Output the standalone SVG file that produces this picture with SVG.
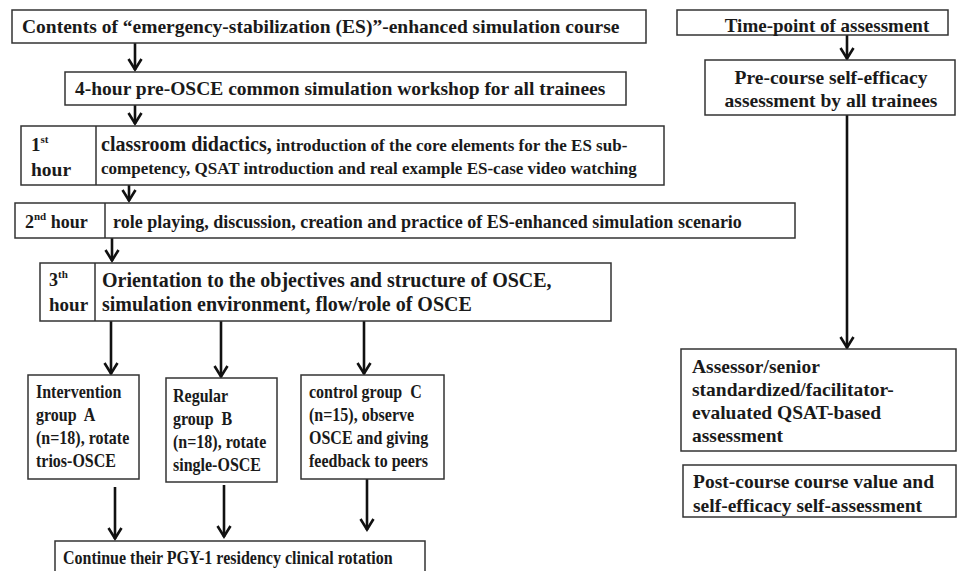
<svg xmlns="http://www.w3.org/2000/svg" width="959" height="571" viewBox="0 0 959 571">
<defs>
<style>
.box{fill:#fff;stroke:#333;stroke-width:1.5}
.div{stroke:#333;stroke-width:1.5}
.t{font-family:"Liberation Serif","Times New Roman",serif;font-weight:bold;fill:#1a1a1a}
.pre{white-space:pre}
.arr{stroke:#111;stroke-width:2.6;fill:none;marker-end:url(#ah)}
</style>
<marker id="ah" viewBox="0 0 14 16" refX="12.5" refY="8" markerWidth="14" markerHeight="16" markerUnits="userSpaceOnUse" orient="auto">
<path d="M1.5,1.5 L12,8 L1.5,14.5" fill="none" stroke="#111" stroke-width="2.6"/>
</marker>
</defs>
<rect width="959" height="571" fill="#fff"/>

<g id="connectors">
<line class="arr" x1="135" y1="43" x2="135" y2="70"/>
<line class="arr" x1="135" y1="105" x2="135" y2="124"/>
<line class="arr" x1="129" y1="185" x2="129" y2="201"/>
<line class="arr" x1="112" y1="238" x2="112" y2="261"/>
<line class="arr" x1="111" y1="321" x2="111" y2="374"/>
<line class="arr" x1="221" y1="321" x2="221" y2="377"/>
<line class="arr" x1="364" y1="321" x2="364" y2="374"/>
<line class="arr" x1="115" y1="487" x2="115" y2="539"/>
<line class="arr" x1="224" y1="485" x2="224" y2="537"/>
<line class="arr" x1="367" y1="479" x2="367" y2="530"/>
<line class="arr" x1="847" y1="35" x2="847" y2="59"/>
<line class="arr" x1="847" y1="115" x2="847" y2="348"/>
</g>

<g id="n-contents">
<rect class="box" x="12" y="10" width="634" height="33"/>
<text class="t" x="22" y="33" font-size="19.5">Contents of “emergency-stabilization (ES)”-enhanced simulation course</text>
</g>

<g id="n-workshop">
<rect class="box" x="65" y="72" width="561" height="33"/>
<text class="t" x="75" y="95" font-size="19.5">4-hour pre-OSCE common simulation workshop for all trainees</text>
</g>

<g id="n-hour1">
<rect class="box" x="21" y="126" width="643" height="59"/>
<line class="div" x1="96" y1="126" x2="96" y2="185"/>
<text class="t" x="31" y="151" font-size="19">1<tspan font-size="11" dy="-8">st</tspan></text>
<text class="t" x="31" y="176" font-size="19.5">hour</text>
<text class="t" x="101" y="151" font-size="20">classroom didactics,<tspan font-size="17"> introduction of the core elements for the ES sub-</tspan></text>
<text class="t" x="101" y="174" font-size="17">competency, QSAT introduction and real example ES-case video watching</text>
</g>

<g id="n-hour2">
<rect class="box" x="15" y="203" width="780" height="35"/>
<line class="div" x1="105" y1="203" x2="105" y2="238"/>
<text class="t" x="25" y="228" font-size="18">2<tspan font-size="11" dy="-8">nd</tspan><tspan dy="8"> hour</tspan></text>
<text class="t" x="113" y="228" font-size="18">role playing, discussion, creation and practice of ES-enhanced simulation scenario</text>
</g>

<g id="n-hour3">
<rect class="box" x="40" y="263" width="571" height="58"/>
<line class="div" x1="95" y1="263" x2="95" y2="321"/>
<text class="t" x="49" y="286" font-size="18">3<tspan font-size="11" dy="-8">th</tspan></text>
<text class="t" x="49" y="311" font-size="19">hour</text>
<text class="t" x="102" y="287" font-size="20">Orientation to the objectives and structure of OSCE,</text>
<text class="t" x="102" y="311" font-size="20">simulation environment, flow/role of OSCE</text>
</g>

<g id="n-groupA">
<rect class="box" x="28" y="375" width="111" height="104"/>
<text class="t pre" font-size="18" transform="translate(36,0) scale(0.89,1)"><tspan x="0" y="398">Intervention</tspan><tspan x="0" y="421">group  A</tspan><tspan x="0" y="444">(n=18), rotate</tspan><tspan x="0" y="467">trios-OSCE</tspan></text>
</g>

<g id="n-groupB">
<rect class="box" x="166" y="378" width="111" height="104"/>
<text class="t pre" font-size="18" transform="translate(173,0) scale(0.89,1)"><tspan x="0" y="402">Regular</tspan><tspan x="0" y="425">group  B</tspan><tspan x="0" y="448">(n=18), rotate</tspan><tspan x="0" y="471">single-OSCE</tspan></text>
</g>

<g id="n-groupC">
<rect class="box" x="301" y="375" width="143" height="104"/>
<text class="t pre" font-size="18" transform="translate(309,0) scale(0.89,1)"><tspan x="0" y="398">control group  C</tspan><tspan x="0" y="421">(n=15), observe</tspan><tspan x="0" y="444">OSCE and giving</tspan><tspan x="0" y="467">feedback to peers</tspan></text>
</g>

<g id="n-continue">
<rect class="box" x="55" y="541" width="370" height="40"/>
<text class="t" font-size="18" transform="translate(63,0) scale(0.89,1)" x="0" y="564">Continue their PGY-1 residency clinical rotation</text>
</g>

<g id="n-timepoint">
<rect class="box" x="677" y="10" width="271" height="25"/>
<text class="t" x="827" y="32" font-size="19" text-anchor="middle">Time-point of assessment</text>
</g>

<g id="n-precourse">
<rect class="box" x="705" y="60" width="250" height="55"/>
<text class="t" font-size="19.5" text-anchor="middle"><tspan x="831" y="84">Pre-course self-efficacy</tspan><tspan x="831" y="107">assessment by all trainees</tspan></text>
</g>

<g id="n-assessor">
<rect class="box" x="681" y="349" width="275" height="102"/>
<text class="t" font-size="19.5"><tspan x="692" y="373">Assessor/senior</tspan><tspan x="692" y="396">standardized/facilitator-</tspan><tspan x="692" y="419">evaluated QSAT-based</tspan><tspan x="692" y="442">assessment</tspan></text>
</g>

<g id="n-postcourse">
<rect class="box" x="683" y="465" width="273" height="52"/>
<text class="t" font-size="19.5"><tspan x="693" y="488">Post-course course value and</tspan><tspan x="693" y="512">self-efficacy self-assessment</tspan></text>
</g>
</svg>
